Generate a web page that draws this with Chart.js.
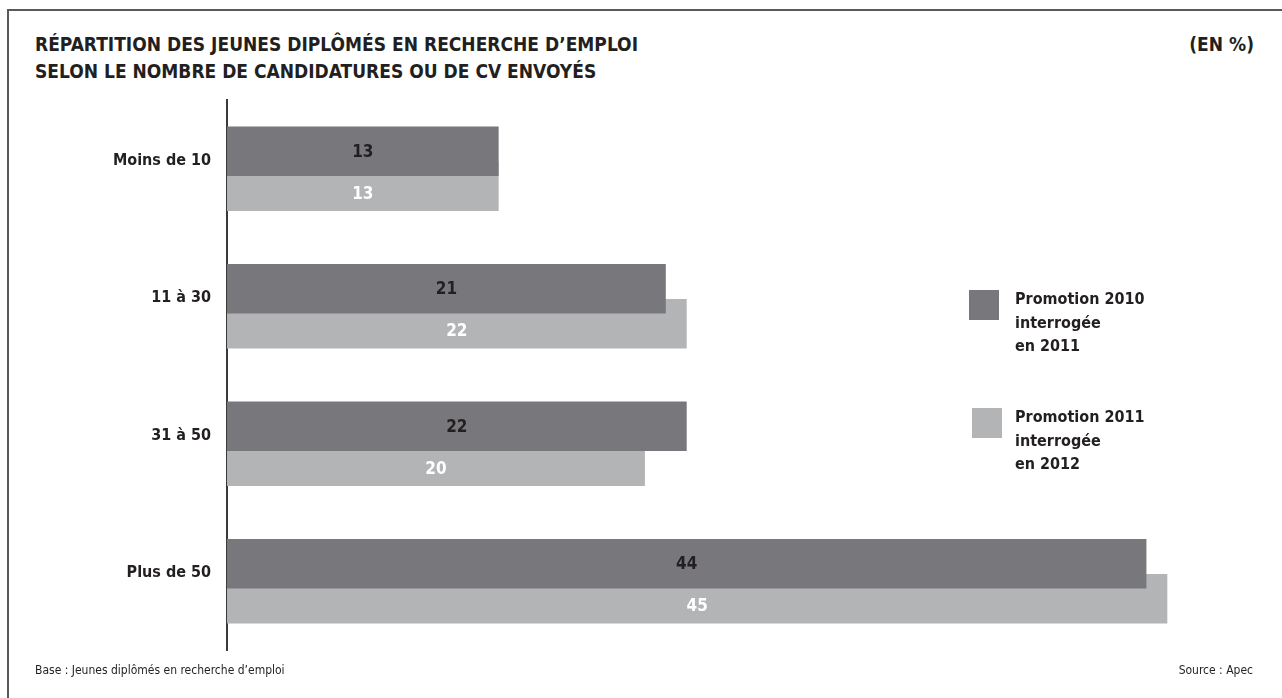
<!DOCTYPE html>
<html>
<head>
<meta charset="utf-8">
<script src="https://cdn.jsdelivr.net/npm/chart.js@4/dist/chart.umd.min.js"></script>
<style>
    body { margin: 0; background: #fff; }
    #page { position: relative; width: 1282px; height: 698px; overflow: hidden; font-family: "DejaVu Sans Condensed", "DejaVu Sans", sans-serif; color: #231f20; }
    #frame { position: absolute; left: 7px; top: 9px; width: 1300px; height: 720px; border-top: 2px solid #5a5a5a; border-left: 2px solid #5a5a5a; }
    #myChart { position: absolute; left: 0; top: 0; }
    .title { position: absolute; left: 35px; top: 31px; font-weight: bold; font-size: 19px; line-height: 27px; }
    .unit { position: absolute; right: 28px; top: 31px; font-weight: bold; font-size: 19px; line-height: 27px; }
    .foot { position: absolute; top: 663px; font-size: 12px; }
    #legend { position: absolute; left: 969px; top: 0; }
    .legItem { position: absolute; left: 0; width: 240px; }
    .legBox { position: absolute; width: 30px; height: 30px; }
    .legText { position: absolute; left: 46px; font-weight: bold; font-size: 16px; line-height: 23.5px; white-space: pre; }
</style>
</head>
<body>
<div id="page">
    <div id="frame"></div>
    <div class="title">RÉPARTITION DES JEUNES DIPLÔMÉS EN RECHERCHE D’EMPLOI<br>SELON LE NOMBRE DE CANDIDATURES OU DE CV ENVOYÉS</div>
    <div class="unit">(EN %)</div>
    <canvas id="myChart" width="1282" height="698"></canvas>
    <div id="legend"></div>
    <div class="foot" style="left:35px">Base : Jeunes diplômés en recherche d’emploi</div>
    <div class="foot" style="right:29px">Source : Apec</div>
</div>
<script>
var categories = ['Moins de 10', '11 à 30', '31 à 50', 'Plus de 50'];
var promo2010 = [13, 21, 22, 44];
var promo2011 = [13, 22, 20, 45];
var seriesLabels = [['Promotion 2010', 'interrogée', 'en 2011'], ['Promotion 2011', 'interrogée', 'en 2012']];
var seriesColors = ['#78787c', '#b3b4b6'];
var valueColors = ['#231f20', '#ffffff'];

var chart;

// value labels, the light bar's label sits in the part not hidden by the dark bar
var valueLabels = {
    id: 'valueLabels',
    afterDatasetsDraw: function(c) {
        var ctx = c.ctx;
        var dark = c.getDatasetMeta(0).data;
        var light = c.getDatasetMeta(1).data;
        ctx.save();
        ctx.font = 'bold 17px "DejaVu Sans Condensed", "DejaVu Sans", sans-serif';
        ctx.textAlign = 'center';
        ctx.textBaseline = 'middle';
        for (var i = 0; i < categories.length; i++) {
            var d = dark[i], l = light[i];
            ctx.fillStyle = valueColors[0];
            ctx.fillText(promo2010[i], (d.base + d.x) / 2, d.y + 1);
            var darkBottom = d.y + d.height / 2;
            var lightBottom = l.y + l.height / 2;
            ctx.fillStyle = valueColors[1];
            ctx.fillText(promo2011[i], (l.base + l.x) / 2, (darkBottom + lightBottom) / 2 + 1);
        }
        ctx.restore();
    }
};

function buildLegend() {
    var legend = document.getElementById('legend');
    var tops = [290, 408];
    var lefts = [0, 3];
    seriesLabels.forEach(function(lbl, i) {
        var item = document.createElement('div');
        item.className = 'legItem';
        item.style.top = tops[i] + 'px';
        var box = document.createElement('div');
        box.className = 'legBox';
        box.style.background = seriesColors[i];
        box.style.left = lefts[i] + 'px';
        var txt = document.createElement('div');
        txt.className = 'legText';
        txt.style.top = '-3px';
        txt.textContent = lbl.join('\n');
        item.appendChild(box);
        item.appendChild(txt);
        legend.appendChild(item);
    });
}

function showChart() {
    const data = {
        labels: categories,
        datasets: [{
            label: seriesLabels[0].join(' '),
            data: promo2010,
            backgroundColor: seriesColors[0]
        }, {
            label: seriesLabels[1].join(' '),
            data: promo2011,
            backgroundColor: seriesColors[1]
        }]
    };
    const options = {
        indexAxis: 'y',
        responsive: false,
        animation: false,
        categoryPercentage: 0.509,
        barPercentage: 1.414,
        layout: {
            padding: { left: 0, right: 52, top: 100, bottom: 48 }
        },
        plugins: {
            legend: { display: false },
            tooltip: { enabled: false }
        },
        scales: {
            x: {
                display: false,
                min: 0,
                max: 48
            },
            y: {
                grid: { display: false, drawTicks: false },
                border: { display: true, color: '#3a3a3a', width: 2 },
                afterFit: function(scale) { scale.width = 227; },
                ticks: {
                    padding: 16,
                    labelOffset: -8,
                    color: '#231f20',
                    font: { family: '"DejaVu Sans Condensed", "DejaVu Sans", sans-serif', size: 16, weight: 'bold' }
                }
            }
        }
    };
    chart = new Chart(document.getElementById('myChart'), {
        type: 'bar',
        data: data,
        options: options,
        plugins: [valueLabels]
    });
}

buildLegend();
showChart();
</script>
</body>
</html>
